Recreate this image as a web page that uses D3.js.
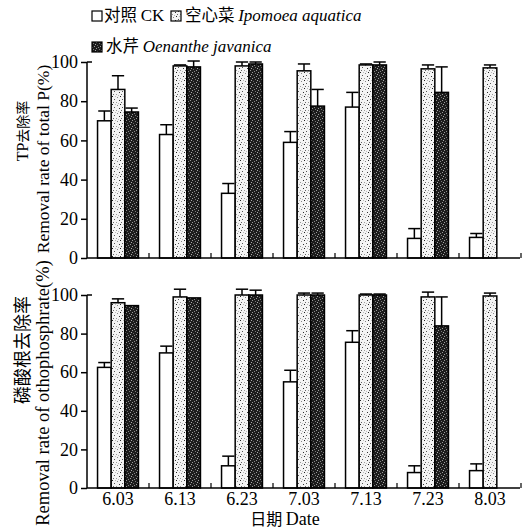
<!DOCTYPE html>
<html><head><meta charset="utf-8">
<script src="https://cdn.jsdelivr.net/npm/d3@7"></script>
<style>
html,body{margin:0;padding:0;background:#fff;}
svg{display:block;}
</style></head>
<body>
<svg id="chart" width="529" height="530"></svg>
<script>
// ---- data ----
const dates = ["6.03","6.13","6.23","7.03","7.13","7.23","8.03"];
const seriesNames = ["CK","Ipomoea","Oenanthe"];
const tpCK     = [70, 63, 33, 59, 77, 10, 10.5];
const tpCKErr  = [5, 5, 5, 5.5, 7.5, 5, 2];
const tpIp     = [86, 98, 98, 95.5, 98.5, 96.5, 97];
const tpIpErr  = [7, 0.5, 2, 3.5, 0.5, 2, 1.5];
const tpOe     = [74.5, 97.5, 99, 77.5, 98.5, 84.5, null];
const tpOeErr  = [2, 3, 1, 8.5, 1.5, 13, null];
const opCK     = [62.5, 70, 11.5, 55, 75.5, 8, 9];
const opCKErr  = [2.5, 3.5, 5, 6, 6, 3.5, 3.5];
const opIp     = [96, 99, 100, 100, 100, 99, 99.5];
const opIpErr  = [2, 4, 3, 1, 0.5, 2.5, 1.5];
const opOe     = [94.5, 98.5, 100, 100, 100, 84, null];
const opOeErr  = [0, 0, 2.5, 1, 0.5, 15, null];
const yTicks   = [0, 20, 40, 60, 80, 100];

const svg = d3.select("#chart");
const serif = "'Liberation Serif','Times New Roman',serif";
const cjk = "'Noto Sans CJK SC',sans-serif";

// ---- patterns ----
const defs = svg.append("defs");
const light = defs.append("pattern").attr("id","pLight").attr("patternUnits","userSpaceOnUse")
  .attr("width",8).attr("height",8);
light.append("rect").attr("width",8).attr("height",8).attr("fill","#f4f4f4");
[[0,0,"#222"],[5,1,"#888"],[2,3,"#555"],[7,4,"#333"],[4,6,"#999"],[1,6,"#666"],[6,7,"#bbb"],[3,0,"#bbb"]].forEach(p=>{
  light.append("rect").attr("x",p[0]).attr("y",p[1]).attr("width",1).attr("height",1).attr("fill",p[2]);
});
const dark = defs.append("pattern").attr("id","pDark").attr("patternUnits","userSpaceOnUse")
  .attr("width",6).attr("height",6);
dark.append("rect").attr("width",6).attr("height",6).attr("fill","#1c1c1c");
[[0,0,"#999"],[3,1,"#777"],[5,2,"#aaa"],[1,3,"#666"],[4,4,"#999"],[2,5,"#888"]].forEach(p=>{
  dark.append("rect").attr("x",p[0]).attr("y",p[1]).attr("width",1).attr("height",1).attr("fill",p[2]);
});
const fills = {CK:"#fff", Ipomoea:"url(#pLight)", Oenanthe:"url(#pDark)"};

// ---- scales ----
const x0 = d3.scaleBand().domain(dates).range([87, 521]).paddingInner(0.34).paddingOuter(0.17);
const x1 = d3.scaleBand().domain(seriesNames).range([0, x0.bandwidth()]);

function panel(top, bottom, vals, errs) {
  const y = d3.scaleLinear().domain([0,100]).range([bottom, top]);
  const g = svg.append("g");
  dates.forEach((d,i)=>{
    seriesNames.forEach((s,k)=>{
      const v = vals[k][i];
      if (v == null) return;
      const bx = x0(d) + x1(s);
      const bw = x1.bandwidth();
      const e = errs[k][i];
      if (e > 0) {
        const cx = bx + bw/2;
        g.append("line").attr("x1",cx).attr("x2",cx).attr("y1",y(v)).attr("y2",y(v+e))
          .attr("stroke","#000").attr("stroke-width",1.5);
        g.append("line").attr("x1",cx-bw*0.45).attr("x2",cx+bw*0.45).attr("y1",y(v+e)).attr("y2",y(v+e))
          .attr("stroke","#000").attr("stroke-width",1.5);
      }
      g.append("rect").attr("x",bx).attr("y",y(v)).attr("width",bw).attr("height",y(0)-y(v))
        .attr("fill",fills[s]).attr("stroke","#000").attr("stroke-width",1.5);
    });
  });
  const ya = g.append("g").attr("transform","translate(87,0)")
    .call(d3.axisLeft(y).tickValues(yTicks).tickSize(6).tickPadding(3));
  ya.select(".domain").attr("stroke","#000").attr("stroke-width",1.5).attr("d",`M0,${top}V${bottom}`);
  ya.selectAll(".tick line").attr("stroke","#000").attr("stroke-width",1.5);
  ya.selectAll(".tick text").attr("font-family",serif).attr("font-size",18).attr("fill","#000");
  g.append("line").attr("x1",87).attr("x2",92).attr("y1",top).attr("y2",top).attr("stroke","#000").attr("stroke-width",1.5);
  g.append("line").attr("x1",87).attr("x2",520).attr("y1",bottom).attr("y2",bottom).attr("stroke","#000").attr("stroke-width",1.6);
  dates.forEach((d,i)=>{
    const xb = x0(d) + x0.bandwidth() + x0.step()*x0.paddingInner()/2;
    g.append("line").attr("x1",xb).attr("x2",xb).attr("y1",bottom).attr("y2",bottom-5)
      .attr("stroke","#000").attr("stroke-width",1.2);
  });
  return y;
}

panel(62, 258, [tpCK,tpIp,tpOe], [tpCKErr,tpIpErr,tpOeErr]);
panel(295, 488, [opCK,opIp,opOe], [opCKErr,opIpErr,opOeErr]);

svg.append("g").selectAll("text").data(dates).join("text")
  .attr("x", d => x0(d) + x0.bandwidth()/2).attr("y", 505)
  .attr("text-anchor","middle").attr("font-family",serif).attr("font-size",18).text(d=>d);

const xt = svg.append("text").attr("x",285).attr("y",525).attr("text-anchor","middle").attr("font-size",16);
xt.append("tspan").attr("font-family",cjk).text("日期 ");
xt.append("tspan").attr("font-family",serif).attr("font-size",18).text("Date");

function ytitle(cx, cy, parts) {
  const t = svg.append("text").attr("transform",`translate(${cx},${cy}) rotate(-90)`)
    .attr("text-anchor","middle").attr("dominant-baseline","central");
  parts.forEach(p => t.append("tspan").attr("font-family",p[1]).attr("font-size",p[2]).text(p[0]));
}
ytitle(22, 131, [["TP",serif,16],["去除率",cjk,14]]);
ytitle(43, 159, [["Removal rate of total P(%)",serif,17.5]]);
ytitle(21, 350, [["磷酸根去除率",cjk,18]]);
ytitle(43, 393, [["Removal rate of othophosphrate(%)",serif,18.5]]);

function legendBox(x, y, fill) {
  svg.append("rect").attr("x",x).attr("y",y).attr("width",10).attr("height",10)
    .attr("fill",fill).attr("stroke","#000").attr("stroke-width",1.2);
}
legendBox(92, 11, fills.CK);
legendBox(171, 11, fills.Ipomoea);
legendBox(92, 42, fills.Oenanthe);
const l1 = svg.append("text").attr("x",104).attr("y",21).attr("font-size",16.5);
l1.append("tspan").attr("font-family",cjk).text("对照 ");
l1.append("tspan").attr("font-family",serif).attr("font-size",17).text("CK");
const l2 = svg.append("text").attr("x",185).attr("y",21).attr("font-size",16.5);
l2.append("tspan").attr("font-family",cjk).text("空心菜 ");
l2.append("tspan").attr("font-family",serif).attr("font-style","italic").attr("font-size",17).text("Ipomoea aquatica");
const l3 = svg.append("text").attr("x",106).attr("y",52).attr("font-size",16.5);
l3.append("tspan").attr("font-family",cjk).text("水芹 ");
l3.append("tspan").attr("font-family",serif).attr("font-style","italic").attr("font-size",17).text("Oenanthe javanica");
</script>
</body></html>
